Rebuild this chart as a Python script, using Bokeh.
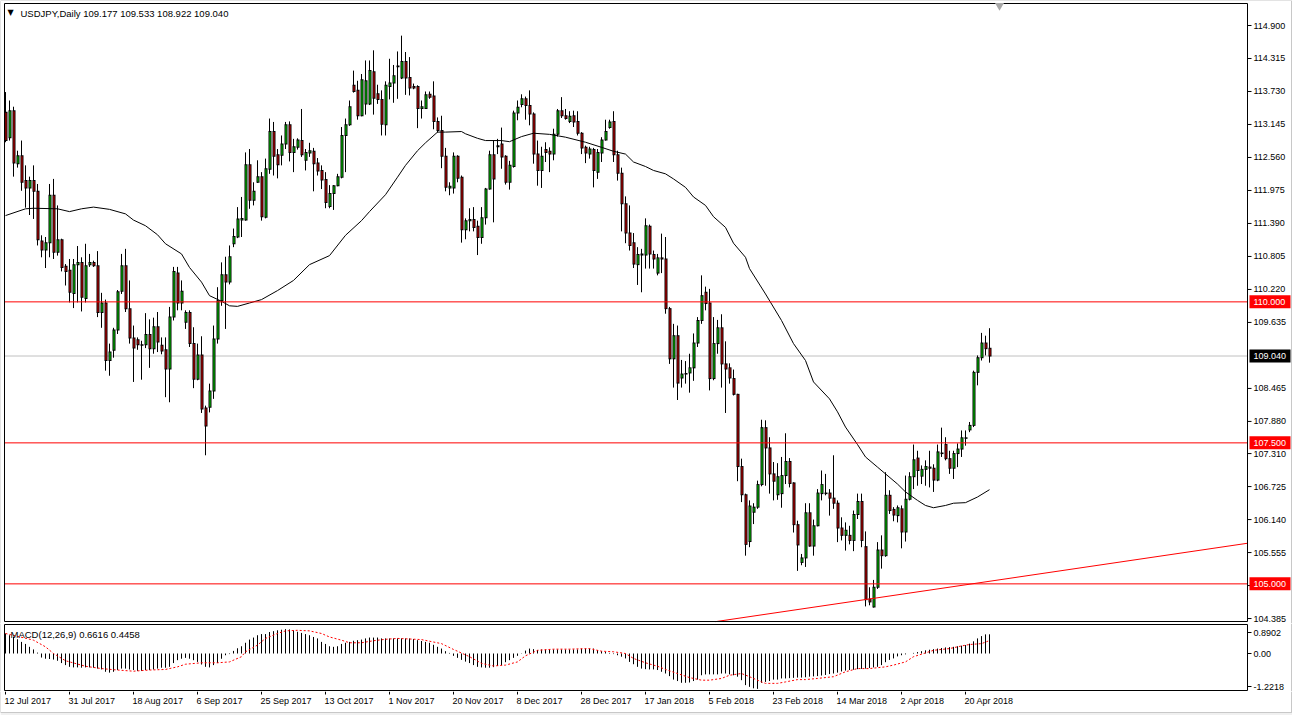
from bokeh.plotting import figure
from bokeh.layouts import column
from bokeh.models import ColumnDataSource, Range1d
from bokeh.core.properties import value
from bokeh.embed import file_html
from bokeh.resources import INLINE

symbol = "USDJPY"
period = "Daily"

opens = [
    113.36, 112.91, 113.39, 112.45, 112.59, 112.15, 112.02, 112.15, 111.96, 111.08,
    110.92, 111.05, 111.89, 110.88, 111.10, 110.63, 110.56, 110.15, 110.66, 110.70,
    110.06, 110.66, 110.70, 110.64, 109.81, 109.98, 108.96, 109.14, 109.50, 110.19,
    110.64, 109.88, 109.36, 109.33, 109.24, 109.24, 109.42, 109.17, 109.56, 109.23,
    109.15, 108.81, 109.73, 110.51, 109.98, 109.64, 109.81, 109.26, 108.63, 109.06,
    108.12, 108.13, 108.42, 109.34, 110.02, 110.48, 110.35, 111.03, 111.15, 111.45,
    111.45, 112.43, 111.80, 112.12, 112.22, 111.50, 112.35, 113.02, 112.61, 112.60,
    112.80, 113.14, 112.65, 112.74, 112.86, 112.51, 112.64, 112.67, 112.46, 112.33,
    112.17, 111.69, 111.92, 112.06, 112.21, 112.95, 113.14, 113.84, 113.75, 113.30,
    113.51, 113.51, 114.08, 113.69, 113.59, 113.14, 113.82, 113.88, 114.17, 113.97,
    114.26, 113.98, 113.82, 113.82, 113.43, 113.43, 113.68, 113.65, 113.20, 113.04,
    112.58, 112.02, 112.02, 112.58, 112.21, 111.28, 111.44, 111.46, 111.34, 111.14,
    111.49, 112.00, 112.61, 112.75, 112.80, 112.58, 112.12, 112.40, 113.35, 113.50,
    113.60, 113.48, 113.33, 112.62, 112.33, 112.70, 112.67, 112.62, 112.97, 113.39,
    113.30, 113.20, 113.30, 113.20, 112.99, 112.74, 112.62, 112.70, 112.30, 112.64,
    112.87, 113.09, 113.20, 112.61, 112.28, 111.74, 111.22, 111.05, 110.66, 110.83,
    110.83, 111.34, 110.84, 110.51, 110.78, 110.76, 109.88, 108.99, 109.40, 108.65,
    108.72, 108.74, 108.83, 109.27, 109.67, 110.17, 109.98, 108.64, 109.26, 109.54,
    108.90, 108.83, 108.64, 108.36, 107.08, 106.58, 105.75, 106.27, 106.36, 106.76,
    107.77, 107.41, 106.95, 106.58, 106.60, 106.92, 107.17, 106.79, 106.05, 105.38,
    105.46, 106.26, 105.67, 106.03, 106.60, 106.60, 106.61, 106.52, 106.43, 105.99,
    105.86, 105.86, 105.77, 106.23, 106.46, 105.66, 104.73, 104.59, 104.94, 105.60,
    105.50, 106.57, 106.32, 106.21, 106.33, 105.92, 106.50, 106.90, 107.23, 106.91,
    107.03, 107.07, 107.05, 106.84, 107.32, 107.47, 107.22, 107.05, 107.31, 107.39,
    107.58, 107.73, 107.81, 108.75, 109.01, 109.27, 109.177,
]
highs = [
    113.72, 113.57, 113.46, 112.68, 112.86, 112.42, 112.22, 112.42, 112.09, 111.18,
    111.15, 112.09, 112.18, 111.71, 111.12, 110.67, 110.76, 110.76, 110.99, 110.79,
    111.03, 110.85, 110.73, 110.90, 110.16, 110.04, 109.26, 109.54, 110.21, 110.85,
    110.94, 110.38, 109.58, 109.37, 109.31, 109.80, 109.69, 109.72, 109.82, 109.37,
    109.37, 109.91, 110.62, 110.62, 110.38, 109.85, 109.85, 109.55, 109.26, 109.39,
    108.16, 108.55, 109.58, 110.26, 110.70, 110.80, 111.00, 111.30, 111.68, 111.86,
    112.65, 112.71, 112.12, 112.51, 112.30, 112.54, 113.25, 113.19, 112.71, 112.95,
    113.19, 113.20, 112.89, 112.90, 113.42, 112.71, 112.82, 112.73, 112.55, 112.42,
    112.30, 112.07, 112.07, 112.27, 113.10, 113.25, 113.57, 114.10, 113.92, 114.04,
    114.28, 114.28, 114.46, 113.85, 113.75, 113.91, 114.31, 114.20, 114.44, 114.72,
    114.43, 114.34, 113.87, 113.84, 113.57, 113.73, 113.73, 113.91, 113.27, 113.30,
    112.73, 112.12, 112.65, 112.60, 112.24, 111.48, 111.66, 111.68, 111.44, 111.68,
    112.02, 112.68, 112.86, 112.89, 113.09, 112.60, 112.50, 113.39, 113.57, 113.68,
    113.64, 113.75, 113.36, 112.86, 112.75, 112.83, 112.74, 113.07, 113.42, 113.63,
    113.42, 113.38, 113.39, 113.38, 113.01, 112.77, 112.75, 112.73, 112.71, 112.92,
    113.23, 113.23, 113.38, 112.68, 112.38, 111.87, 111.71, 111.22, 110.97, 110.94,
    111.48, 111.37, 110.91, 110.85, 111.21, 111.15, 109.91, 109.61, 109.58, 108.97,
    108.95, 109.08, 109.44, 109.73, 110.47, 110.27, 110.23, 109.73, 109.68, 109.78,
    109.30, 108.91, 108.80, 108.37, 107.22, 106.60, 106.48, 106.43, 106.83, 107.91,
    107.90, 107.60, 107.16, 107.14, 107.25, 107.67, 107.23, 106.80, 106.12, 105.53,
    106.43, 106.43, 106.14, 106.68, 107.01, 106.95, 106.68, 107.28, 106.48, 106.18,
    106.09, 106.03, 106.30, 106.60, 106.60, 105.93, 104.94, 105.07, 105.74, 105.86,
    106.98, 106.66, 106.36, 106.39, 106.39, 106.92, 106.98, 107.47, 107.36, 107.10,
    107.19, 107.36, 107.12, 107.47, 107.77, 107.60, 107.36, 107.36, 107.49, 107.72,
    107.72, 107.87, 108.78, 109.05, 109.45, 109.40, 109.533,
]
lows = [
    112.83, 112.86, 112.22, 112.38, 111.97, 111.67, 111.54, 111.47, 111.00, 110.79,
    110.60, 110.79, 110.76, 110.82, 110.54, 110.29, 109.99, 109.89, 109.99, 109.83,
    109.99, 110.62, 110.62, 109.73, 109.54, 108.78, 108.69, 109.01, 109.43, 110.14,
    109.82, 109.26, 108.58, 109.15, 108.62, 109.18, 108.83, 109.08, 109.11, 109.07,
    108.31, 108.22, 109.67, 109.85, 109.85, 109.52, 109.20, 108.47, 108.61, 108.03,
    107.28, 108.04, 108.28, 109.26, 109.93, 109.52, 110.31, 110.97, 111.13, 111.15,
    111.44, 111.65, 111.71, 112.11, 111.44, 111.48, 112.27, 112.24, 112.19, 112.42,
    112.71, 112.49, 112.30, 112.70, 112.57, 112.33, 112.57, 111.96, 112.24, 112.00,
    111.66, 111.66, 111.63, 112.05, 112.19, 112.30, 113.12, 113.71, 113.23, 113.29,
    113.32, 113.49, 113.32, 113.51, 112.95, 112.95, 113.59, 113.53, 113.60, 113.95,
    113.67, 113.66, 113.77, 113.08, 113.25, 113.42, 113.60, 113.06, 113.00, 112.37,
    111.96, 111.89, 111.92, 112.12, 111.05, 111.11, 111.25, 111.25, 110.83, 111.03,
    111.37, 111.99, 111.41, 112.62, 112.36, 112.08, 111.99, 112.38, 113.22, 113.45,
    113.23, 113.13, 112.45, 112.06, 112.02, 112.48, 112.30, 112.51, 112.93, 113.26,
    113.23, 113.17, 113.10, 112.95, 112.62, 112.46, 112.54, 112.03, 112.18, 112.48,
    112.86, 113.07, 112.48, 112.15, 111.25, 111.04, 110.91, 110.60, 110.30, 110.17,
    110.59, 110.59, 110.59, 110.47, 110.51, 109.79, 108.90, 108.48, 108.26, 108.48,
    108.55, 108.39, 108.60, 109.20, 109.61, 109.85, 108.43, 108.61, 109.08, 108.48,
    108.03, 108.55, 108.34, 106.82, 106.45, 105.50, 105.65, 106.06, 106.33, 106.73,
    106.74, 106.60, 106.48, 106.49, 106.35, 106.77, 106.71, 105.91, 105.23, 105.33,
    105.30, 105.66, 105.50, 106.02, 106.48, 106.57, 106.21, 106.33, 105.74, 105.77,
    105.59, 105.70, 105.58, 106.15, 105.65, 104.60, 104.62, 104.58, 104.91, 105.27,
    105.48, 106.24, 106.11, 106.09, 105.63, 105.75, 106.48, 106.68, 106.74, 106.77,
    106.74, 106.71, 106.63, 106.82, 107.25, 107.19, 106.95, 106.86, 107.07, 107.25,
    107.45, 107.69, 107.78, 108.52, 108.96, 109.05, 108.922,
]
closes = [
    112.86, 113.39, 112.46, 112.59, 112.12, 112.02, 112.15, 111.96, 111.10, 110.92,
    111.05, 111.89, 110.88, 111.10, 110.61, 110.54, 110.17, 110.66, 110.70, 110.08,
    110.64, 110.70, 110.64, 109.81, 109.98, 108.96, 109.11, 109.50, 110.18, 110.64,
    109.88, 109.36, 109.18, 109.24, 109.23, 109.42, 109.17, 109.56, 109.29, 109.13,
    108.81, 109.73, 110.54, 109.98, 110.19, 109.81, 109.26, 108.63, 109.06, 108.10,
    107.80, 108.42, 109.34, 110.02, 110.48, 110.35, 110.80, 111.16, 111.47, 111.48,
    112.43, 111.80, 111.96, 112.22, 111.51, 112.36, 113.02, 112.58, 112.43, 112.80,
    113.14, 112.65, 112.75, 112.87, 112.61, 112.65, 112.68, 112.45, 112.32, 112.16,
    111.76, 111.92, 112.06, 112.22, 112.95, 113.14, 113.46, 113.73, 113.30, 113.94,
    113.92, 114.10, 113.61, 113.59, 113.15, 113.84, 113.88, 114.01, 114.18, 114.26,
    113.97, 113.79, 113.79, 113.43, 113.46, 113.67, 113.63, 113.20, 113.04, 112.58,
    112.03, 112.05, 112.58, 112.19, 111.28, 111.44, 111.46, 111.32, 111.14, 111.49,
    112.00, 112.61, 112.18, 112.77, 112.57, 112.12, 112.42, 113.35, 113.45, 113.60,
    113.48, 113.33, 112.62, 112.33, 112.58, 112.65, 112.62, 112.97, 113.39, 113.30,
    113.25, 113.29, 113.19, 112.99, 112.73, 112.64, 112.71, 112.33, 112.65, 112.87,
    113.02, 113.19, 112.61, 112.28, 111.74, 111.22, 111.00, 110.67, 110.84, 110.85,
    111.35, 110.85, 110.76, 110.78, 110.76, 109.88, 108.99, 109.40, 108.56, 108.72,
    108.73, 108.83, 109.27, 109.67, 110.11, 109.97, 108.64, 109.26, 109.54, 108.90,
    108.81, 108.65, 108.36, 107.08, 106.58, 105.70, 106.38, 106.36, 106.76, 107.77,
    107.41, 106.95, 106.82, 106.90, 106.92, 107.17, 106.78, 106.05, 105.69, 105.46,
    106.26, 105.67, 106.03, 106.61, 106.76, 106.61, 106.52, 106.43, 105.99, 105.86,
    105.95, 105.77, 106.23, 106.46, 105.77, 104.72, 104.68, 104.94, 105.60, 105.50,
    106.57, 106.30, 106.22, 106.35, 105.92, 106.50, 106.90, 107.20, 107.01, 107.03,
    107.08, 107.05, 106.84, 107.34, 107.31, 107.22, 107.05, 107.31, 107.39, 107.59,
    107.59, 107.81, 108.75, 109.01, 109.27, 109.17, 109.040,
]

# moving average line (read at selected bars)
ma_idx = [0, 5, 7, 13, 16, 19, 22, 26, 30, 32,
          35, 38, 40, 44, 46, 49, 51, 54, 56, 58,
          61, 64, 68, 72, 76, 81, 85, 89, 91, 95,
          98, 100, 103, 105, 108, 110, 114, 115, 118, 120,
          124, 126, 129, 132, 136, 140, 145, 149, 152, 155,
          157, 160, 162, 165, 167, 170, 172, 175, 177, 180,
          182, 185, 186, 190, 194, 197, 200, 202, 206, 208,
          210, 213, 215, 218, 220, 223, 225, 228, 230, 232,
          235, 237, 240, 243, 246]
ma_val = [111.53, 111.65, 111.66, 111.65, 111.60, 111.65, 111.68, 111.64, 111.56, 111.45,
          111.35, 111.19, 111.03, 110.85, 110.61, 110.35, 110.11, 110.01, 109.93, 109.92,
          109.98, 110.04, 110.20, 110.38, 110.66, 110.82, 111.18, 111.44, 111.60, 111.90,
          112.21, 112.42, 112.68, 112.82, 113.01, 113.01, 113.02, 112.98, 112.90, 112.86,
          112.86, 112.84, 112.93, 112.99, 112.97, 112.92, 112.83, 112.74, 112.67, 112.62,
          112.48, 112.40, 112.33, 112.27, 112.18, 112.03, 111.86, 111.71, 111.51, 111.32,
          111.04, 110.79, 110.59, 110.14, 109.67, 109.26, 108.96, 108.58, 108.28, 108.05,
          107.78, 107.47, 107.25, 107.07, 106.95, 106.77, 106.63, 106.48, 106.39, 106.35,
          106.39, 106.43, 106.44, 106.54, 106.67]

# MACD(12,26,9) main values, one per bar
macd = [
    0.69, 0.63, 0.57, 0.49, 0.40, 0.33, 0.23, 0.14, 0.03, -0.14,
    -0.18, -0.19, -0.21, -0.25, -0.33, -0.40, -0.46, -0.48, -0.48, -0.49,
    -0.48, -0.48, -0.49, -0.52, -0.55, -0.63, -0.66, -0.63, -0.57, -0.52,
    -0.52, -0.55, -0.57, -0.60, -0.60, -0.57, -0.57, -0.55, -0.52, -0.49,
    -0.49, -0.46, -0.33, -0.23, -0.18, -0.15, -0.18, -0.23, -0.29, -0.38,
    -0.46, -0.48, -0.40, -0.33, -0.18, -0.06, -0.02, 0.09, 0.18, 0.25,
    0.37, 0.48, 0.55, 0.63, 0.67, 0.67, 0.74, 0.77, 0.80, 0.82,
    0.84, 0.83, 0.80, 0.75, 0.71, 0.67, 0.63, 0.57, 0.52, 0.40,
    0.33, 0.25, 0.23, 0.25, 0.33, 0.37, 0.40, 0.44, 0.46, 0.48,
    0.52, 0.55, 0.55, 0.55, 0.52, 0.52, 0.52, 0.52, 0.52, 0.52,
    0.52, 0.52, 0.50, 0.46, 0.43, 0.40, 0.37, 0.30, 0.23, 0.17,
    0.08, 0.02, -0.08, -0.15, -0.22, -0.28, -0.33, -0.40, -0.46, -0.48,
    -0.49, -0.49, -0.47, -0.43, -0.40, -0.30, -0.23, -0.15, -0.08, 0.01,
    0.10, 0.17, 0.15, 0.12, 0.14, 0.14, 0.14, 0.14, 0.14, 0.14,
    0.14, 0.14, 0.14, 0.14, 0.17, 0.17, 0.17, 0.17, 0.12, 0.08,
    0.05, 0.02, -0.02, -0.06, -0.11, -0.17, -0.29, -0.37, -0.46, -0.52,
    -0.54, -0.55, -0.55, -0.57, -0.63, -0.69, -0.78, -0.90, -0.95, -1.01,
    -1.01, -1.00, -0.95, -0.90, -0.75, -0.72, -0.72, -0.72, -0.72, -0.69,
    -0.69, -0.72, -0.75, -0.80, -0.92, -1.09, -1.15, -1.20, -1.22, -1.01,
    -0.98, -0.95, -0.90, -0.90, -0.86, -0.86, -0.85, -0.84, -0.83, -0.83,
    -0.82, -0.80, -0.79, -0.78, -0.76, -0.74, -0.71, -0.69, -0.66, -0.62,
    -0.59, -0.57, -0.56, -0.54, -0.53, -0.52, -0.50, -0.48, -0.46, -0.40,
    -0.30, -0.22, -0.17, -0.10, -0.06, -0.03, 0.00, 0.02, 0.05, 0.08,
    0.11, 0.13, 0.15, 0.17, 0.19, 0.21, 0.22, 0.23, 0.25, 0.27,
    0.29, 0.34, 0.42, 0.52, 0.60, 0.66, 0.6616,
]
# MACD signal line (read at selected bars)
sig_idx = [0, 7, 10, 12, 15, 20, 24, 28, 32, 36,
           40, 43, 45, 49, 53, 56, 59, 60, 63, 65,
           68, 70, 73, 76, 79, 81, 84, 86, 89, 92,
           95, 98, 104, 109, 112, 116, 119, 122, 125, 128,
           130, 133, 137, 141, 146, 149, 152, 155, 157, 160,
           163, 165, 168, 171, 174, 176, 179, 181, 184, 186,
           189, 190, 193, 195, 198, 200, 203, 207, 210, 213,
           216, 220, 222, 225, 227, 230, 232, 236, 239, 241,
           244, 246]
sig_val = [0.69, 0.46, 0.23, 0.0, -0.25, -0.44, -0.52, -0.57, -0.61, -0.57,
           -0.55, -0.46, -0.37, -0.32, -0.32, -0.29, -0.11, 0.06, 0.29, 0.52,
           0.69, 0.78, 0.80, 0.78, 0.69, 0.57, 0.46, 0.37, 0.37, 0.44,
           0.49, 0.52, 0.48, 0.34, 0.14, -0.11, -0.34, -0.43, -0.40, -0.29,
           -0.08, 0.11, 0.15, 0.15, 0.17, 0.08, 0.06, 0.0, -0.17, -0.32,
           -0.44, -0.55, -0.69, -0.83, -0.92, -0.92, -0.86, -0.75, -0.69, -0.80,
           -0.98, -1.03, -1.03, -0.98, -0.90, -0.90, -0.86, -0.80, -0.63, -0.52,
           -0.52, -0.46, -0.40, -0.29, -0.11, 0.02, 0.11, 0.17, 0.26, 0.31,
           0.34, 0.4458]
macd_scale_labels = ["0.8902", "0.00", "-1.2218"]

levels = [110.000, 107.500, 105.000]
trend_x = [177.5, 310.5]
trend_y = [104.33, 105.72]

price_ticks = [114.900, 114.315, 113.730, 113.145, 112.560, 111.975, 111.390, 110.805,
               110.220, 109.635, 108.465, 107.880, 107.310, 106.725, 106.140, 105.555,
               104.970, 104.385]
date_labels = ["12 Jul 2017", "31 Jul 2017", "18 Aug 2017", "6 Sep 2017", "25 Sep 2017",
               "13 Oct 2017", "1 Nov 2017", "20 Nov 2017", "8 Dec 2017", "28 Dec 2017",
               "17 Jan 2018", "5 Feb 2018", "23 Feb 2018", "14 Mar 2018", "2 Apr 2018",
               "20 Apr 2018"]
date_idx = list(range(0, 16 * len(date_labels), 16))

# ---------------- layout constants (pixels) ----------------
FONT = "Liberation Sans"
AX_FS = "9px"
HDR_FS = "9.5px"
MACD_FS = "9.5px"
BULL = "#00e000"
BEAR = "#e00000"
WIN_GRAY = "#c8c8c8"
W, H_MAIN, H_MACD, H_AXIS = 1292, 623, 68, 24

PX0, PXB = 5.0, 4.0              # pixel of bar 0, pixels per bar
def xd(px):
    return (px - PX0) / PXB

PREF, PREF_PX, PPY = 114.9, 25.0, 56.4     # price scale of the main panel
def yd(py):
    return PREF - (py - PREF_PX) / PPY

ZERO_PX, PPU = 653.0, 29.0                 # MACD scale
def vd(py):
    return (ZERO_PX - py) / PPU

L_PX, R_PX = 4.0, 1247.0                   # chart border columns
xr = Range1d(xd(0), xd(W))

n = len(closes)
idx = list(range(n))
half_px = 0.5 / PPY
body_top = [max(a, b) for a, b in zip(opens, closes)]
body_bot = [min(a, b) for a, b in zip(opens, closes)]
src = ColumnDataSource(dict(
    x=idx, h=highs, l=lows,
    xb=[i + 0.5 / PXB for i in idx],       # filled shapes sit on whole pixels
    otop=[t + half_px for t in body_top],
    obot=[b - half_px for b in body_bot],
    itop=[max(t - half_px, b + half_px) for t, b in zip(body_top, body_bot)],
    ibot=[b + half_px for b in body_bot],
    color=[BULL if c >= o else BEAR for o, c in zip(opens, closes)],
))


def make_fig(height, yrange):
    f = figure(width=W, height=height, x_range=xr, y_range=yrange,
               output_backend="svg", toolbar_location=None,
               x_axis_location=None, y_axis_location=None,
               min_border_left=0, min_border_right=0, min_border_top=0, min_border_bottom=0)
    f.grid.visible = False
    f.outline_line_color = None
    f.background_fill_color = "white"
    f.border_fill_color = "white"
    return f


def right_scale(f, ys, labels):
    # ticks and labels of the price scale at the right of the chart
    f.segment(x0=[xd(R_PX)] * len(ys), y0=ys, x1=[xd(R_PX + 4)] * len(ys), y1=ys,
              line_color="black", line_width=1)
    f.text(x=[xd(1253)] * len(ys), y=ys, text=labels, text_align="left",
           text_baseline="middle", text_font=value(FONT), text_font_size=value(AX_FS),
           text_color="black")


# ---------------- main panel ----------------
p = make_fig(H_MAIN, Range1d(yd(H_MAIN), yd(0)))
# window edges
p.segment(x0=[xd(0), xd(0), xd(W - 1)], y0=[yd(0), yd(0), yd(0)],
          x1=[xd(W - 1), xd(0), xd(W - 1)], y1=[yd(0), yd(H_MAIN), yd(H_MAIN)],
          line_color=WIN_GRAY, line_width=1)

# current price line
p.segment(x0=[xd(L_PX)], y0=[closes[-1]], x1=[xd(R_PX)], y1=[closes[-1]],
          line_color="#c0c0c0", line_width=1)

# candles: wick, black body frame (3 px), coloured body core (1 px)
p.segment(x0="x", y0="l", x1="x", y1="h", source=src, line_color="black", line_width=1)
p.vbar(x="xb", width=3 / PXB, top="otop", bottom="obot", source=src,
       fill_color="black", line_color=None)
p.vbar(x="xb", width=1 / PXB, top="itop", bottom="ibot", source=src,
       fill_color="color", line_color=None)
p.line(ma_idx, ma_val, line_color="black", line_width=1)
p.line(trend_x, trend_y, line_color="red", line_width=1)
p.segment(x0=[xd(L_PX)] * len(levels), y0=levels, x1=[xd(R_PX)] * len(levels), y1=levels,
          line_color="red", line_width=1)

# chart border
p.quad(left=[xd(L_PX)], right=[xd(R_PX)], top=[yd(3)], bottom=[yd(621)],
       fill_alpha=0, line_color="black", line_width=1)

# chart-shift marker
p.scatter(x=[n + 1.5], y=[yd(5)], marker="inverted_triangle", size=9,
          fill_color="#a8a8a8", line_color=None)

# header
p.text(x=[xd(7)], y=[yd(12)], text=["\u25bc"], text_align="left", text_baseline="middle",
       text_font=value("DejaVu Sans"), text_font_size=value("8px"), text_color="black")
header = "%s,%s  %.3f %.3f %.3f %.3f" % (symbol, period, opens[-1], highs[-1], lows[-1], closes[-1])
p.text(x=[xd(20)], y=[yd(12.5)], text=[header], text_align="left", text_baseline="middle",
       text_font=value(FONT), text_font_size=value(HDR_FS), text_color="black")

# price scale
right_scale(p, price_ticks, ["%.3f" % t for t in price_ticks])
box_h = 6.5 / PPY
box_y = levels + [closes[-1]]
box_c = ["red"] * len(levels) + ["black"]
p.quad(left=[xd(1249)] * len(box_y), right=[xd(1290)] * len(box_y),
       top=[y + box_h for y in box_y], bottom=[y - box_h for y in box_y],
       fill_color=box_c, line_color=None)
p.text(x=[xd(1253)] * len(box_y), y=box_y, text=["%.3f" % y for y in box_y],
       text_align="left", text_baseline="middle", text_font=value(FONT),
       text_font_size=value(AX_FS), text_color="white")

# ---------------- MACD panel ----------------
TOP_M = H_MAIN
m = make_fig(H_MACD, Range1d(vd(TOP_M + H_MACD), vd(TOP_M)))
m.segment(x0=[xd(0), xd(W - 1)], y0=[vd(TOP_M)] * 2, x1=[xd(0), xd(W - 1)],
          y1=[vd(TOP_M + H_MACD)] * 2, line_color=WIN_GRAY, line_width=1)
m.segment(x0=idx, y0=[0] * n, x1=idx, y1=macd, line_color="black", line_width=1)
m.line(sig_idx, sig_val, line_color="red", line_width=1, line_dash="2 2")
m.quad(left=[xd(L_PX)], right=[xd(R_PX)], top=[vd(624)], bottom=[vd(690)],
       fill_alpha=0, line_color="black", line_width=1)
m.text(x=[xd(10)], y=[vd(634)], text=["MACD(12,26,9) %.4f %.4f" % (macd[-1], sig_val[-1])],
       text_align="left", text_baseline="middle", text_font=value(FONT),
       text_font_size=value(MACD_FS), text_color="black")
right_scale(m, [vd(632), 0.0, vd(686)], macd_scale_labels)

# ---------------- date axis strip ----------------
TOP_A = TOP_M + H_MACD
def ad(py):
    return (TOP_A + H_AXIS) - py

s = make_fig(H_AXIS, Range1d(0, H_AXIS))
s.quad(left=[xd(0)], right=[xd(W)], top=[ad(712)], bottom=[ad(TOP_A + H_AXIS)],
       fill_color="#f0f0f0", line_color=None)
s.segment(x0=[xd(0), xd(W - 1), xd(0)], y0=[ad(TOP_A), ad(TOP_A), ad(712)],
          x1=[xd(0), xd(W - 1), xd(W)], y1=[ad(712), ad(712), ad(712)],
          line_color=WIN_GRAY, line_width=1)
s.segment(x0=date_idx, y0=[ad(TOP_A)] * len(date_idx), x1=date_idx,
          y1=[ad(TOP_A + 3)] * len(date_idx), line_color="black", line_width=1)
s.text(x=date_idx, y=[ad(700.5)] * len(date_idx), text=date_labels, x_offset=-1,
       text_align="left", text_baseline="middle", text_font=value(FONT),
       text_font_size=value(AX_FS), text_color="black")

layout = column(p, m, s, spacing=0)
open("out.html", "w").write(file_html(layout, INLINE))
